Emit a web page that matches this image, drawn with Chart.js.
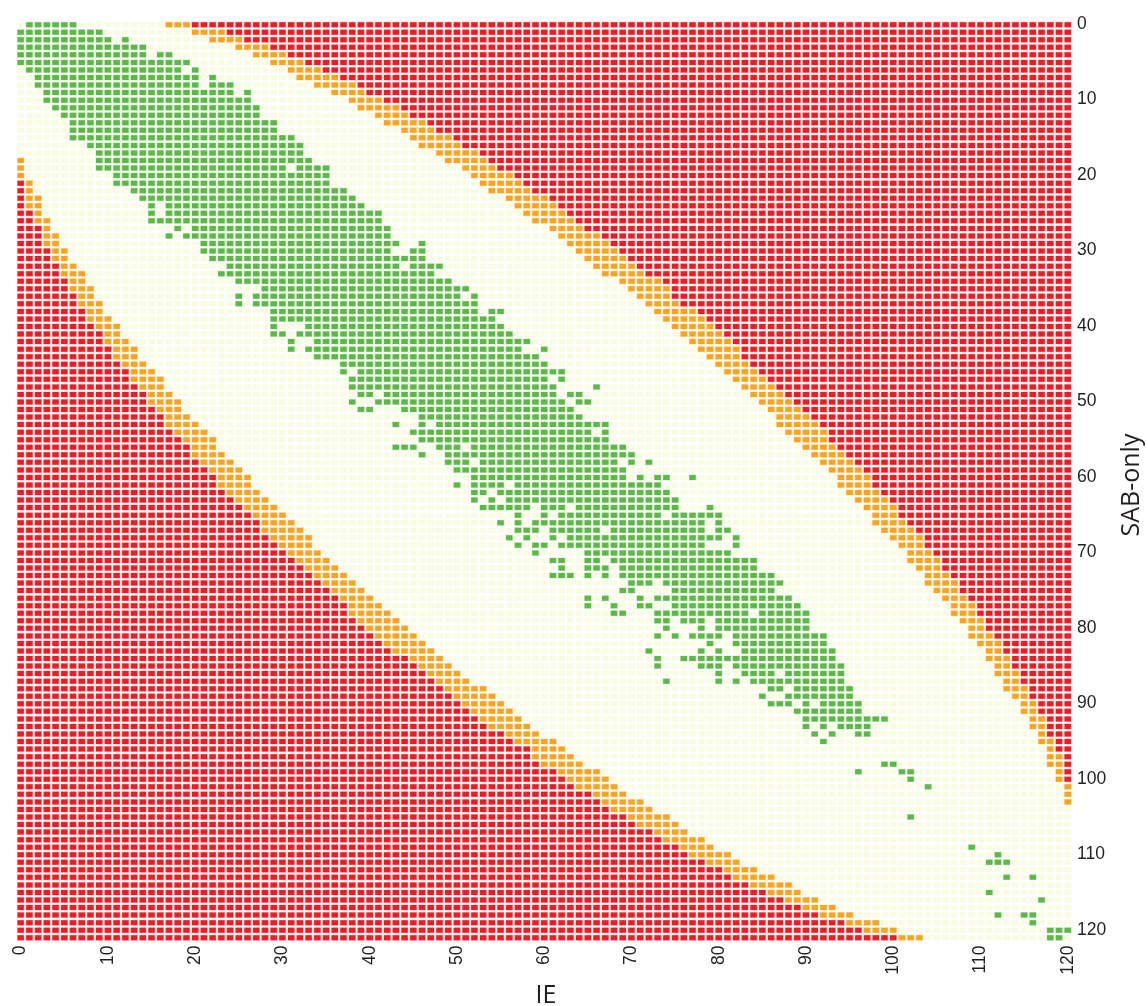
<!DOCTYPE html>
<html>
<head>
<meta charset="utf-8">
<title>IE vs SAB-only</title>
<script src="https://cdn.jsdelivr.net/npm/chart.js@4"></script>
<style>
  html, body { margin: 0; padding: 0; background: #fff; }
  canvas { display: block; }
</style>
</head>
<body>
<canvas id="grid" width="1148" height="1006"></canvas>
<script>
const ieValues = Array.from({ length: 121 }, (_, i) => i);
const sabValues = Array.from({ length: 122 }, (_, i) => i);
const xTicks = [0, 10, 20, 30, 40, 50, 60, 70, 80, 90, 100, 110, 120];
const yTicks = [0, 10, 20, 30, 40, 50, 60, 70, 80, 90, 100, 110, 120];

// one entry per SAB-only row. rows past the end have no upper band
const upperOrangeFrom = [
  17, 20, 22, 25, 27, 29, 31, 32, 34, 36, 38, 39, 41, 42, 44, 45, 46, 48, 49, 51,
  52, 53, 54, 56, 57, 58, 59, 61, 62, 63, 64, 65, 66, 67, 69, 70, 71, 72, 73, 74,
  75, 76, 77, 78, 79, 80, 81, 82, 83, 84, 85, 86, 87, 87, 88, 89, 90, 91, 92, 93,
  94, 94, 95, 96, 97, 98, 98, 99, 100, 101, 102, 102, 103, 104, 104, 105, 106, 107, 107, 108,
  109, 109, 110, 111, 111, 112, 112, 113, 113, 114, 115, 115, 116, 116, 117, 117, 118, 118, 118, 119,
  119, 120, 120, 120
];
const upperOrangeTo = [
  19, 23, 25, 28, 30, 32, 34, 36, 38, 39, 41, 43, 44, 46, 47, 49, 50, 52, 53, 54,
  56, 57, 58, 60, 61, 62, 63, 64, 66, 67, 68, 69, 70, 71, 73, 74, 74, 75, 77, 78,
  79, 80, 81, 82, 82, 83, 84, 85, 86, 87, 88, 89, 90, 91, 92, 92, 93, 94, 95, 96,
  97, 97, 98, 99, 100, 100, 101, 102, 103, 103, 104, 105, 105, 106, 107, 107, 108, 109, 109, 110,
  110, 111, 112, 112, 113, 113, 114, 114, 115, 115, 116, 116, 117, 117, 117, 118, 118, 119, 119, 119,
  119, 120, 120, 120
];
// these start at row 18
const lowerFirstRow = 18;
const lowerOrangeFrom = [
  0, 0, 0, 1, 1, 1, 1, 2, 2, 3, 3, 3, 4, 4, 5, 5, 6, 6, 7, 7,
  8, 8, 9, 10, 10, 11, 11, 12, 13, 13, 14, 15, 15, 16, 17, 17, 18, 19, 20, 20,
  21, 22, 23, 23, 24, 25, 26, 27, 28, 28, 29, 30, 31, 32, 33, 34, 35, 36, 37, 38,
  38, 39, 40, 41, 42, 43, 45, 46, 47, 48, 49, 50, 51, 52, 53, 54, 56, 57, 59, 59,
  60, 62, 63, 64, 66, 67, 68, 70, 71, 73, 74, 76, 77, 79, 81, 82, 84, 86, 88, 90,
  92, 95, 97, 101
];
const lowerOrangeTo = [
  0, 0, 0, 1, 1, 2, 2, 2, 3, 3, 4, 4, 5, 5, 6, 7, 7, 8, 8, 9,
  9, 10, 11, 11, 12, 13, 13, 14, 15, 16, 16, 17, 18, 18, 19, 20, 21, 22, 22, 23,
  24, 25, 26, 26, 27, 28, 29, 30, 31, 32, 33, 33, 34, 35, 36, 37, 38, 39, 40, 41,
  42, 43, 44, 45, 46, 47, 48, 49, 50, 51, 53, 54, 55, 56, 57, 58, 59, 61, 62, 63,
  64, 66, 67, 68, 69, 71, 72, 74, 75, 76, 78, 79, 81, 82, 84, 86, 88, 89, 91, 93,
  95, 98, 100, 103
];
// green runs per row as from,to,from,to...
const greenRuns = [
  [1,6], [0,9], [0,10,12,12], [0,14], [0,14,16,17], [0,19], [1,18,20,20], [2,20,22,22], [2,20,22,24], [3,24,26,26],
  [3,26], [4,27], [5,27], [6,29], [6,29], [6,31], [8,32], [9,32], [9,33], [9,30,32,35],
  [11,35], [11,35], [13,37], [14,38], [15,15,17,39], [15,15,17,41], [15,41], [18,18,20,42], [17,17,19,42], [21,43,46,46],
  [21,42,45,46], [22,46], [24,43,45,48], [23,47], [25,49], [28,51], [25,25,27,50,52,52], [25,25,27,52], [29,52,54,55], [29,54],
  [29,29,33,55], [29,30,32,56], [31,31,34,58], [31,31,33,57,60,60], [34,59], [37,60], [37,37,39,62], [38,60,62,62], [38,61,66,66], [39,40,42,61,63,64],
  [38,38,41,62,64,65], [39,40,44,63], [46,64], [43,43,46,46,48,67], [45,65,67,67], [46,67], [43,45,48,50,52,69], [46,46,49,70], [49,51,53,68,70,70,72,72], [50,69],
  [52,69,71,71,73,74,77,77], [50,50,52,55,57,73], [52,53,55,74], [52,52,54,54,56,75], [53,58,60,62,64,75,79,79], [57,57,60,60,62,73,75,80], [55,55,57,57,59,78,80,80], [57,59,61,66,68,78,80,81], [56,56,58,58,61,61,63,80,82,82], [57,57,59,60,62,78,82,82],
  [59,59,65,81], [61,62,65,66,68,84], [62,62,65,67,69,84], [61,63,65,65,67,67,69,86], [70,72,74,87], [69,70,75,86], [65,65,67,67,71,71,73,88], [65,65,68,68,71,72,75,89], [68,69,73,83,85,90], [73,74,76,78,80,90],
  [74,74,78,78,80,90], [73,73,75,75,77,80,82,92], [79,79,82,92], [72,72,78,78,80,80,83,93], [73,73,76,93], [73,73,78,80,82,94], [80,80,83,86,88,94], [74,74,80,80,82,82,84,94], [86,87,89,95], [85,85,88,95],
  [86,88,90,90,92,96], [89,96], [90,99], [90,90,92,92,94,97], [91,91,93,93,96,97], [92,92], [], [], [99,100], [96,96,101,102],
  [102,102], [104,104], [], [], [], [102,102], [], [], [], [109,109],
  [112,112], [111,113], [], [113,113,116,116], [], [111,111], [117,117], [], [112,112,115,116], [116,116],
  [118,120], [118,119]
];

const colors = { red: "#ED1C24", orange: "#FBA31C", cream: "#FAFBE3", green: "#5CB946" };
const halos = { red: "rgba(237,28,36,0.3)", orange: "rgba(251,163,28,0.3)", cream: "rgba(250,251,227,0.3)", green: "rgba(92,185,70,0.3)" };

function inRuns(runs, col) {
  for (let i = 0; i < runs.length; i += 2) {
    if (col >= runs[i] && col <= runs[i + 1]) return true;
  }
  return false;
}

function cellClass(row, col) {
  if (inRuns(greenRuns[row], col)) return "green";
  if (row < upperOrangeFrom.length) {
    if (col > upperOrangeTo[row]) return "red";
    if (col >= upperOrangeFrom[row]) return "orange";
  }
  if (row >= lowerFirstRow) {
    const k = row - lowerFirstRow;
    if (col < lowerOrangeFrom[k]) return "red";
    if (col <= lowerOrangeTo[k]) return "orange";
  }
  return "cream";
}

const cells = { red: [], orange: [], cream: [], green: [] };
sabValues.forEach((row) => {
  ieValues.forEach((col) => {
    cells[cellClass(row, col)].push({ x: col, y: row });
  });
});

// the "line" point style with a thick stroke gives a cell wider than tall
function cellDataset(name, color, radius, height) {
  return {
    label: name,
    data: cells[name],
    pointStyle: "line",
    pointRadius: radius,
    pointHoverRadius: radius,
    pointBorderWidth: height,
    pointBorderColor: color,
    pointBackgroundColor: color,
  };
}

// solid cell on top of a paler, slightly larger one (soft edge of the original)
const datasets = [];
Object.keys(cells).forEach((name) => {
  datasets.push(cellDataset(name, colors[name], 3.2, 5.0));
});
Object.keys(cells).forEach((name) => {
  datasets.push(cellDataset(name + " edge", halos[name], 3.75, 6.0));
});
datasets.forEach((d, i) => { if (i >= 4) d.data = cells[d.label.split(" ")[0]]; });

// Chart.js only turns a right-hand axis title top-to-bottom, so both titles go here
const axisTitlePlugin = {
  id: "axisTitles",
  afterDraw(chart) {
    const { ctx } = chart;
    ctx.save();
    ctx.font = "25px 'Open Sans'";
    ctx.fillStyle = "#231F20";
    ctx.textAlign = "center";
    ctx.textBaseline = "middle";
    ctx.fillText(chart.options.scales.x.title.text, 546, 996);
    ctx.translate(1132, 485);
    ctx.rotate(-Math.PI / 2);
    ctx.fillText(chart.options.scales.y.title.text, 0, 0);
    ctx.restore();
  },
};

const tickFont = { family: "'Liberation Sans'", size: 17.5 };

new Chart(document.getElementById("grid").getContext("2d"), {
  type: "scatter",
  data: { datasets },
  plugins: [axisTitlePlugin],
  options: {
    responsive: false,
    animation: false,
    events: [],
    layout: { padding: { left: 16.3, top: 20.9, right: 0, bottom: 0 } },
    plugins: { legend: { display: false }, tooltip: { enabled: false } },
    scales: {
      x: {
        type: "linear",
        min: -0.5,
        max: 120.5,
        grid: { display: false, drawTicks: false },
        border: { display: false },
        afterFit: (scale) => { scale.height = 64.5; },
        afterBuildTicks: (scale) => { scale.ticks = xTicks.map((v) => ({ value: v })); },
        ticks: {
          autoSkip: false,
          minRotation: 90,
          maxRotation: 90,
          padding: 4,
          labelOffset: 0,
          color: "#231F20",
          font: tickFont,
        },
        title: { display: false, text: "IE" },
      },
      y: {
        type: "linear",
        position: "right",
        reverse: true,
        min: -0.5,
        max: 121.5,
        grid: { display: false, drawTicks: false },
        border: { display: false },
        afterFit: (scale) => { scale.width = 75.9; },
        afterBuildTicks: (scale) => { scale.ticks = yTicks.map((v) => ({ value: v })); },
        ticks: {
          autoSkip: false,
          padding: 5,
          labelOffset: -0.5,
          color: "#231F20",
          font: tickFont,
        },
        title: { display: false, text: "SAB-only" },
      },
    },
  },
});
</script>
</body>
</html>
